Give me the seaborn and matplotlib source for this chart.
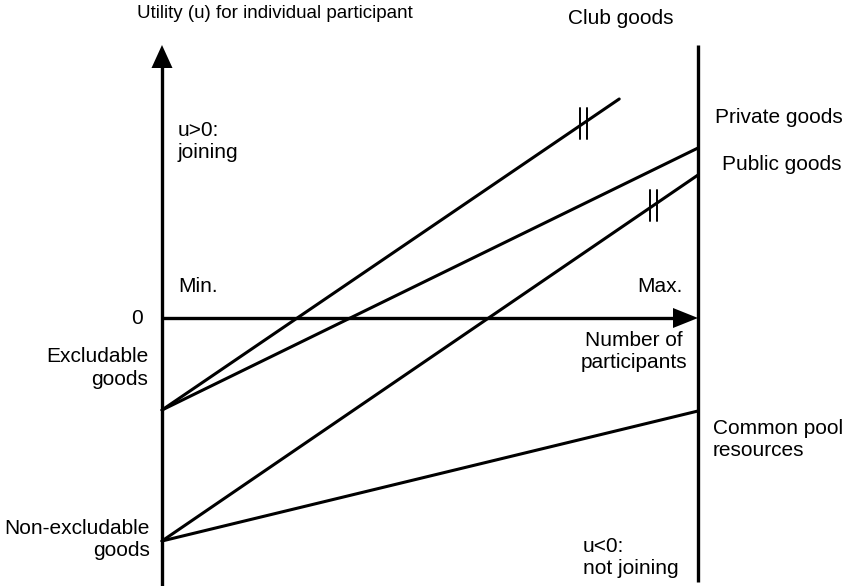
import numpy as np
import pandas as pd
import matplotlib
matplotlib.use("Agg")
import matplotlib.pyplot as plt
import seaborn as sns

# ---- data (conceptual units: x = share of max participants, u = utility) ----
goods = ["Club goods", "Private goods", "Public goods", "Common pool resources"]
x_start = [0.0, 0.0, 0.0, 0.0]
x_end = [0.853, 1.0, 1.0, 1.0]
u_start = [-0.92, -0.92, -2.23, -2.23]
u_end = [2.19, 1.70, 1.43, -0.93]
# lines that carry a "||" break mark, and where along x
break_goods = ["Club goods", "Public goods"]
break_x = [0.787, 0.917]

rows = []
for g, xs, xe, us, ue in zip(goods, x_start, x_end, u_start, u_end):
    rows.append({"good": g, "x": xs, "u": us})
    rows.append({"good": g, "x": xe, "u": ue})
df = pd.DataFrame(rows)

sns.set_theme(style="white")
plt.rcParams["font.family"] = ["Liberation Sans", "DejaVu Sans"]

W, H = 849, 586
fig = plt.figure(figsize=(W / 100, H / 100), dpi=100)
ax = fig.add_axes([0, 0, 1, 1])

# pixel layout helpers (layout only)
X0, XS, Y0, YS = 162, 536, 318, 100
def dx(px): return (px - X0) / XS
def du(py): return (Y0 - py) / YS

ax.set_xlim(dx(0), dx(W))
ax.set_ylim(du(H), du(0))
ax.axis("off")

sns.lineplot(data=df, x="x", y="u", hue="good", units="good", estimator=None,
             palette=["black"] * len(goods), legend=False, linewidth=2.2,
             sort=False, ax=ax)

# break marks
for g, bx in zip(break_goods, break_x):
    i = goods.index(g)
    bu = np.interp(bx, [x_start[i], x_end[i]], [u_start[i], u_end[i]])
    for off in (-3.6, 3.6):
        xx = bx + off / XS
        ax.plot([xx, xx], [bu - 0.155, bu + 0.155], color="black", lw=1.4)

# axes arrows
lw_axis = 2.4
ax.plot([0, 0], [du(586), du(66)], color="black", lw=lw_axis, solid_capstyle="butt")
ax.fill([dx(151.5), dx(172.5), 0], [du(68), du(68), du(45)], color="black", lw=0)
ax.plot([0, dx(676)], [0, 0], color="black", lw=lw_axis, solid_capstyle="butt")
ax.fill([dx(673), dx(673), dx(698)], [du(308), du(328), 0], color="black", lw=0)
ax.plot([1.0, 1.0], [du(45), du(582)], color="black", lw=lw_axis, solid_capstyle="butt")

FS = 15
def label(px, py, lines, ha="left", dy=22.5, fs=FS):
    for k, s in enumerate(lines):
        ax.text(dx(px), du(py + k * dy), s, ha=ha, va="center", fontsize=fs,
                color="black")

label(137, 13, ["Utility (u) for individual participant"], fs=13.5)
label(673, 18, ["Club goods"], ha="right")
label(178, 130, ["u>0:", "joining"])
label(715, 117, ["Private goods"])
label(722, 165, ["Public goods"])
label(178, 287, ["Min."])
label(683, 287, ["Max."], ha="right")
label(137, 318, ["0"], ha="center")
label(148, 357, ["Excludable", "goods"], ha="right")
label(634, 340, ["Number of", "participants"], ha="center")
label(713, 428, ["Common pool", "resources"])
label(583, 546, ["u<0:", "not joining"])
label(150, 528, ["Non-excludable", "goods"], ha="right")

fig.savefig("out.png", dpi=100, facecolor="white")
